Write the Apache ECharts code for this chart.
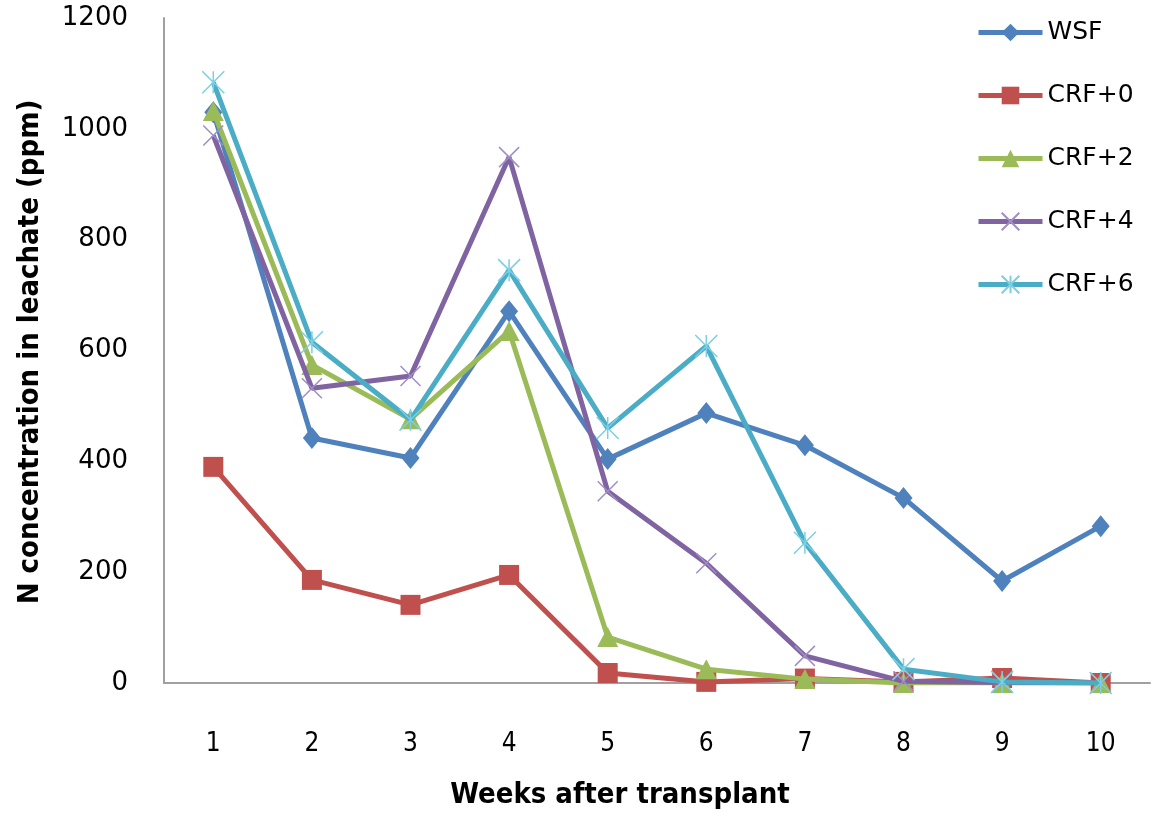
<!DOCTYPE html>
<html><head><meta charset="utf-8">
<script src="https://cdn.jsdelivr.net/npm/echarts@6/dist/echarts.min.js"></script>
<style>html,body{margin:0;padding:0;background:#fff}#c{width:1151px;height:813px}</style>
</head><body><div id="c"></div>
<script>
const weeks = ['1','2','3','4','5','6','7','8','9','10'];
const seriesNames = ['WSF','CRF+0','CRF+2','CRF+4','CRF+6'];
const wsf  = [1030, 442, 406, 671, 404, 487, 429, 334, 184, 283];
const crf0 = [390, 186, 141, 195, 18, 2, 8, 2, 9, 0];
const crf2 = [1032, 574, 476, 635, 83, 25, 7, 0, 0, 0];
const crf4 = [988, 532, 554, 949, 346, 216, 49, 3, 1, 0];
const crf6 = [1084, 615, 475, 745, 460, 608, 253, 25, 2, 0];
const yTicks = [0, 200, 400, 600, 800, 1000, 1200];

const lineColors = ['#4F81BD','#C0504D','#9BBB59','#8064A2','#4BACC6'];
const xPath = 'path://M0,0 L10,10 M10,0 L0,10';
const starPath = 'path://M0,0 L10,10 M10,0 L0,10 M5,0 L5,10';
const dataArr = [wsf, crf0, crf2, crf4, crf6];
const symbols = ['diamond','rect','triangle', xPath, starPath];
const symSizes = [[18,22],[20,20],[21,20],[20,20],[22,22]];
const symStyles = [
  {color:'#4F81BD'},
  {color:'#C0504D'},
  {color:'#9BBB59'},
  {color:'none', borderColor:'#A08EC4', borderWidth:1.5},
  {color:'none', borderColor:'#7ACFE3', borderWidth:1.5}
];

const series = seriesNames.map((n,i)=>({
  name:n, type:'line', data:dataArr[i], symbol:symbols[i], symbolSize:symSizes[i],
  showAllSymbol:true,
  lineStyle:{color:lineColors[i], width:5},
  itemStyle:Object.assign({opacity:1}, symStyles[i]),
  z: 2+i, animation:false
}));

const titleFont = '"DejaVu Sans Condensed","DejaVu Sans",sans-serif';
const chart = echarts.init(document.getElementById('c'), null, {renderer:'canvas'});
chart.setOption({
  backgroundColor:'#fff',
  animation:false,
  grid:{left:164, right:1, top:18, height:665, containLabel:false},
  legend:{
    orient:'vertical', left:971, top:15, itemWidth:64, itemHeight:22, itemGap:38,
    textStyle:{fontFamily:'"DejaVu Sans", sans-serif', fontSize:25, color:'#000', padding:[0,0,0,0]},
    data:seriesNames.map((n,i)=>({name:n, lineStyle:{width:5, color:lineColors[i]}}))
  },
  xAxis:{
    type:'category', data:weeks, boundaryGap:true,
    axisLine:{lineStyle:{color:'#A0A0A0', width:2}},
    axisTick:{show:false},
    axisLabel:{margin:48, fontFamily:titleFont, fontSize:26, color:'#000'},
    splitLine:{show:false}
  },
  yAxis:{
    type:'value', min:0, max:1200, interval:200,
    axisLine:{show:true, lineStyle:{color:'#A0A0A0', width:2}},
    axisTick:{show:false},
    axisLabel:{margin:36, fontFamily:'"DejaVu Sans",sans-serif', fontSize:26, color:'#000', formatter:v=>String(v)},
    splitLine:{show:false}
  },
  graphic:[
    {type:'text', style:{text:'Weeks after transplant', font:'bold 29px '+titleFont, fill:'#000', textAlign:'center', textVerticalAlign:'middle'}, position:[620,795]},
    {type:'text', style:{text:'N concentration in leachate (ppm)', font:'bold 29px '+titleFont, fill:'#000', textAlign:'center', textVerticalAlign:'middle'}, position:[30,352], rotation:Math.PI/2}
  ],
  series:series
});
</script></body></html>
